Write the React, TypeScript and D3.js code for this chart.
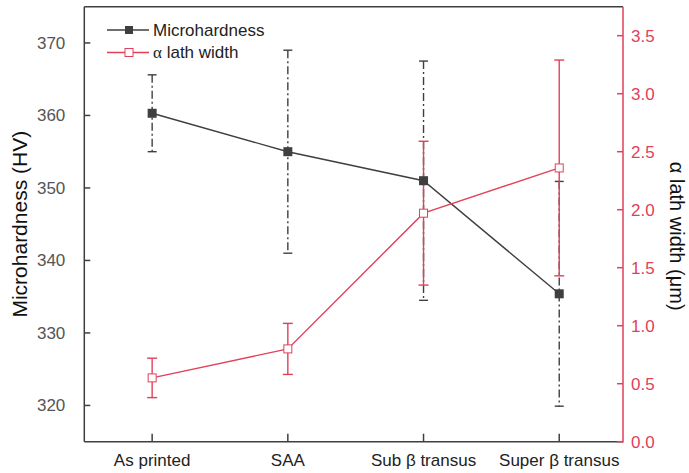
import React from "react";
import * as d3 from "d3";

const categories = ["As printed", "SAA", "Sub β transus", "Super β transus"];
const hardness = [360.3, 355.0, 351.0, 335.4];
const hardnessErr = [5.3, 14.0, 16.5, 15.5];
const lathWidth = [0.55, 0.8, 1.97, 2.36];
const lathErr = [0.17, 0.22, 0.62, 0.93];
const leftTicks = [320, 330, 340, 350, 360, 370];
const rightTicks = [0, 0.5, 1, 1.5, 2, 2.5, 3, 3.5];

const W = 689;
const H = 473;
const left = 84.3;
const right = 623;
const top = 6.7;
const bottom = 441.7;

const BLACK = "#3f3f3f";
const RED = "#e2405a";
const TICK_TEXT = "#555555";
const FONT = "'Liberation Sans', Arial, sans-serif";

export default function App() {
  const x = d3.scaleLinear().domain([0.5, 4.47]).range([left, right]);
  const yL = d3.scaleLinear().domain([315, 375]).range([bottom, top]);
  const yR = d3.scaleLinear().domain([0, 3.75]).range([bottom, top]);

  const idx = categories.map((_, i) => i + 1);
  const line = d3.line<number>();

  const hPts: [number, number][] = idx.map((k, i) => [x(k), yL(hardness[i])]);
  const lPts: [number, number][] = idx.map((k, i) => [x(k), yR(lathWidth[i])]);

  return (
    <svg
      width={W}
      height={H}
      style={{ position: "absolute", left: 0, top: 0, background: "#fff" }}
      fontFamily={FONT}
    >
      {/* frame */}
      <line x1={left} x2={right} y1={top} y2={top} stroke={BLACK} strokeWidth={1.5} />
      <line x1={left} x2={left} y1={top} y2={bottom} stroke={BLACK} strokeWidth={1.5} />
      <line x1={left} x2={right} y1={bottom} y2={bottom} stroke={BLACK} strokeWidth={1.5} />
      <line x1={right} x2={right} y1={top} y2={bottom + 0.75} stroke={RED} strokeWidth={1.5} />

      {/* left axis ticks */}
      {leftTicks.map((t) => (
        <g key={"l" + t}>
          <line x1={left} x2={left + 6} y1={yL(t)} y2={yL(t)} stroke={BLACK} strokeWidth={1.5} />
          <text x={left - 19} y={yL(t)} dy="0.35em" textAnchor="end" fontSize={17} fill={TICK_TEXT}>
            {t}
          </text>
        </g>
      ))}

      {/* right axis ticks */}
      {rightTicks.map((t) => (
        <g key={"r" + t}>
          <line x1={right - 6} x2={right} y1={yR(t)} y2={yR(t)} stroke={RED} strokeWidth={1.5} />
          <text x={right + 8} y={yR(t)} dy="0.35em" textAnchor="start" fontSize={17} fill={RED}>
            {t.toFixed(1)}
          </text>
        </g>
      ))}

      {/* x axis ticks */}
      {idx.map((k, i) => (
        <g key={"x" + k}>
          <line x1={x(k)} x2={x(k)} y1={bottom} y2={bottom - 8} stroke={BLACK} strokeWidth={1.5} />
          <text x={x(k)} y={bottom + 24} textAnchor="middle" fontSize={17} fill="#222">
            {categories[i]}
          </text>
        </g>
      ))}

      {/* axis titles */}
      <text
        transform={`translate(27,${(top + bottom) / 2}) rotate(-90)`}
        textAnchor="middle"
        fontSize={21}
        fill="#111"
      >
        Microhardness (HV)
      </text>
      <text
        transform={`translate(670,${(top + bottom) / 2 + 12}) rotate(90)`}
        textAnchor="middle"
        fontSize={20}
        fill="#111"
      >
        α lath width (μm)
      </text>

      {/* microhardness error bars (dash-dot) */}
      {idx.map((k, i) => {
        const cx = x(k);
        const y1 = yL(hardness[i] + hardnessErr[i]);
        const y2 = yL(hardness[i] - hardnessErr[i]);
        return (
          <g key={"he" + k} stroke={BLACK} strokeWidth={1.4}>
            <line x1={cx} x2={cx} y1={y1} y2={y2} strokeDasharray="8,3,2,3" />
            <line x1={cx - 4.5} x2={cx + 4.5} y1={y1} y2={y1} />
            <line x1={cx - 4.5} x2={cx + 4.5} y1={y2} y2={y2} />
          </g>
        );
      })}

      {/* lath width error bars */}
      {idx.map((k, i) => {
        const cx = x(k);
        const y1 = yR(lathWidth[i] + lathErr[i]);
        const y2 = yR(lathWidth[i] - lathErr[i]);
        return (
          <g key={"le" + k} stroke={RED} strokeWidth={1.4}>
            <line x1={cx} x2={cx} y1={y1} y2={y2} />
            <line x1={cx - 5} x2={cx + 5} y1={y1} y2={y1} />
            <line x1={cx - 5} x2={cx + 5} y1={y2} y2={y2} />
          </g>
        );
      })}

      {/* series lines */}
      <path d={line(hPts) ?? ""} fill="none" stroke={BLACK} strokeWidth={1.4} />
      <path d={line(lPts) ?? ""} fill="none" stroke={RED} strokeWidth={1.4} />

      {/* markers */}
      {hPts.map(([px, py], i) => (
        <rect key={"hm" + i} x={px - 4.5} y={py - 4.5} width={9} height={9} fill={BLACK} />
      ))}
      {lPts.map(([px, py], i) => (
        <rect
          key={"lm" + i}
          x={px - 4}
          y={py - 4}
          width={8}
          height={8}
          fill="#fff"
          stroke={RED}
          strokeWidth={1}
        />
      ))}

      {/* legend */}
      <g>
        <line x1={107} x2={149} y1={30} y2={30} stroke={BLACK} strokeWidth={1.4} />
        <rect x={125} y={26} width={8} height={8} fill={BLACK} />
        <text x={153} y={30} dy="0.35em" fontSize={17} fill="#222">
          Microhardness
        </text>
        <line x1={107} x2={149} y1={52.5} y2={52.5} stroke={RED} strokeWidth={1.4} />
        <rect x={125} y={48.5} width={8} height={8} fill="#fff" stroke={RED} strokeWidth={1} />
        <text x={153} y={52.5} dy="0.35em" fontSize={17} fill="#222">
          <tspan fontFamily="'Liberation Serif', 'Times New Roman', serif">α</tspan> lath width
        </text>
      </g>
    </svg>
  );
}
